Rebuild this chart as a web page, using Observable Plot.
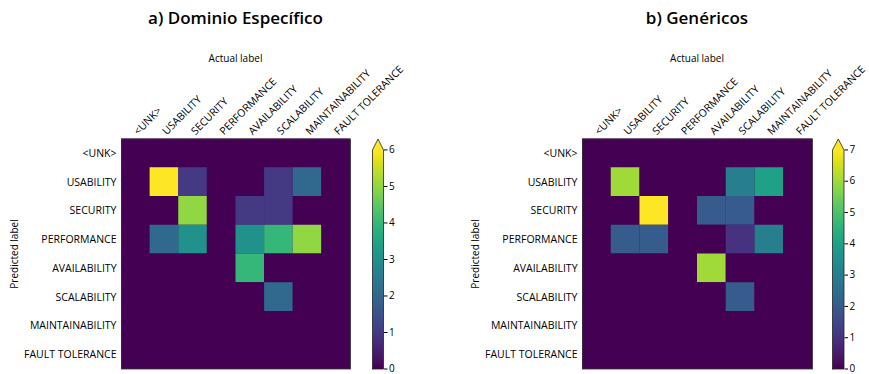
<!DOCTYPE html>
<html>
<head>
<meta charset="utf-8">
<script src="https://cdn.jsdelivr.net/npm/d3@7"></script>
<script src="https://cdn.jsdelivr.net/npm/@observablehq/plot@0.6"></script>
<style>
  html, body { margin: 0; padding: 0; background: #fff; }
  #root { position: relative; width: 869px; height: 374px; font-family: "Open Sans", sans-serif; overflow: hidden; }
  #root svg { position: absolute; left: 0; top: 0; background: transparent !important; }
  .txt { position: absolute; white-space: nowrap; color: #000; line-height: 1; }
  .title { font-size: 17px; font-weight: 600; transform: translateX(-50%); }
  .xl { font-size: 10px; transform: translateX(-50%); }
  .yl { font-size: 10px; transform: translate(-50%, -50%) rotate(-90deg); }
</style>
</head>
<body>
<div id="root"></div>
<script>
// ---- data ----
const labels = ["<UNK>", "USABILITY", "SECURITY", "PERFORMANCE", "AVAILABILITY", "SCALABILITY", "MAINTAINABILITY", "FAULT TOLERANCE"];
const titles = ["a) Dominio Específico", "b) Genéricos"];
const xLabel = "Actual label";
const yLabel = "Predicted label";
// rows = predicted label, columns = actual label
const matrixA = [
  [0, 0, 0, 0, 0, 0, 0, 0],
  [0, 6, 1, 0, 0, 1, 2, 0],
  [0, 0, 5, 0, 1, 1, 0, 0],
  [0, 2, 3, 0, 3, 4, 5, 0],
  [0, 0, 0, 0, 4, 0, 0, 0],
  [0, 0, 0, 0, 0, 2, 0, 0],
  [0, 0, 0, 0, 0, 0, 0, 0],
  [0, 0, 0, 0, 0, 0, 0, 0]
];
const matrixB = [
  [0, 0, 0, 0, 0, 0, 0, 0],
  [0, 6, 0, 0, 0, 3, 4, 0],
  [0, 0, 7, 0, 2, 2, 0, 0],
  [0, 2, 2, 0, 0, 1, 3, 0],
  [0, 0, 0, 0, 6, 0, 0, 0],
  [0, 0, 0, 0, 0, 2, 0, 0],
  [0, 0, 0, 0, 0, 0, 0, 0],
  [0, 0, 0, 0, 0, 0, 0, 0]
];
const vmaxA = 6;
const vmaxB = 7;

(function () {
// ---- layout ----
const W = 869, H = 374;
const panels = [
  {matrix: matrixA, vmax: vmaxA, title: titles[0], left: 121, right: 350, cbLeft: 372, cbRight: 383},
  {matrix: matrixB, vmax: vmaxB, title: titles[1], left: 582, right: 812, cbLeft: 832, cbRight: 843.5}
];
const fTop = 138.5, fBottom = 368.5;
const root = document.getElementById("root");
const font = {fontFamily: "Open Sans, sans-serif", fontSize: "10px", background: "transparent", overflow: "visible"};

function addText(cls, text, x, y) {
  const d = document.createElement("div");
  d.className = "txt " + cls;
  d.textContent = text;
  d.style.left = x + "px";
  d.style.top = y + "px";
  root.appendChild(d);
}

for (const p of panels) {
  const cells = [];
  p.matrix.forEach((row, i) => row.forEach((v, j) => cells.push({pred: labels[i], actual: labels[j], value: v})));
  const color = {type: "linear", scheme: "viridis", domain: [0, p.vmax]};

  const heat = Plot.plot({
    width: W, height: H,
    marginLeft: p.left, marginRight: W - p.right,
    marginTop: fTop, marginBottom: H - fBottom,
    style: font,
    x: {domain: labels, padding: 0, round: false, axis: null},
    y: {domain: labels, padding: 0, round: false, axis: null},
    color,
    marks: [
      Plot.frame({fill: d3.interpolateViridis(0), stroke: "none"}),
      Plot.cell(cells, {x: "actual", y: "pred", fill: "value", inset: 0}),
      Plot.frame({stroke: "#333", strokeWidth: 0.8}),
      Plot.axisX({anchor: "top", tickRotate: -45, tickSize: 0, tickPadding: 6, label: null, fontSize: 10.5}),
      Plot.axisY({anchor: "left", tickSize: 0, tickPadding: 5, label: null, fontSize: 10.5})
    ]
  });
  root.appendChild(heat);

  // colorbar
  const ext = p.vmax * 1.05;
  const arrow = [{x: 0, y: p.vmax}, {x: 0.5, y: ext}, {x: 1, y: p.vmax}];
  const outline = [{x: 0, y: 0}, {x: 0, y: p.vmax}, {x: 0.5, y: ext}, {x: 1, y: p.vmax}, {x: 1, y: 0}, {x: 0, y: 0}];
  const cb = Plot.plot({
    width: W, height: H,
    marginLeft: p.cbLeft, marginRight: W - p.cbRight,
    marginTop: fTop, marginBottom: H - fBottom,
    style: font,
    x: {domain: [0, 1], axis: null},
    y: {domain: [0, ext], axis: null},
    color,
    marks: [
      Plot.raster({x1: 0, x2: 1, y1: 0, y2: p.vmax, width: 1, height: 256, fill: (x, y) => y, imageRendering: "auto"}),
      Plot.line(arrow, {x: "x", y: "y", fill: d3.interpolateViridis(1), stroke: "none"}),
      Plot.line(outline, {x: "x", y: "y", stroke: "#222", strokeWidth: 0.8}),
      Plot.axisY(d3.range(0, p.vmax + 1), {anchor: "right", tickSize: 3.5, tickPadding: 2, label: null, fontSize: 10, tickFormat: d3.format("d")})
    ]
  });
  root.appendChild(cb);

  const cx = (p.left + p.right) / 2;
  addText("title", p.title, cx, 9);
  addText("xl", xLabel, cx, 53);
  addText("yl", yLabel, p.left - 107, (fTop + fBottom) / 2);
}
})();
</script>
</body>
</html>
